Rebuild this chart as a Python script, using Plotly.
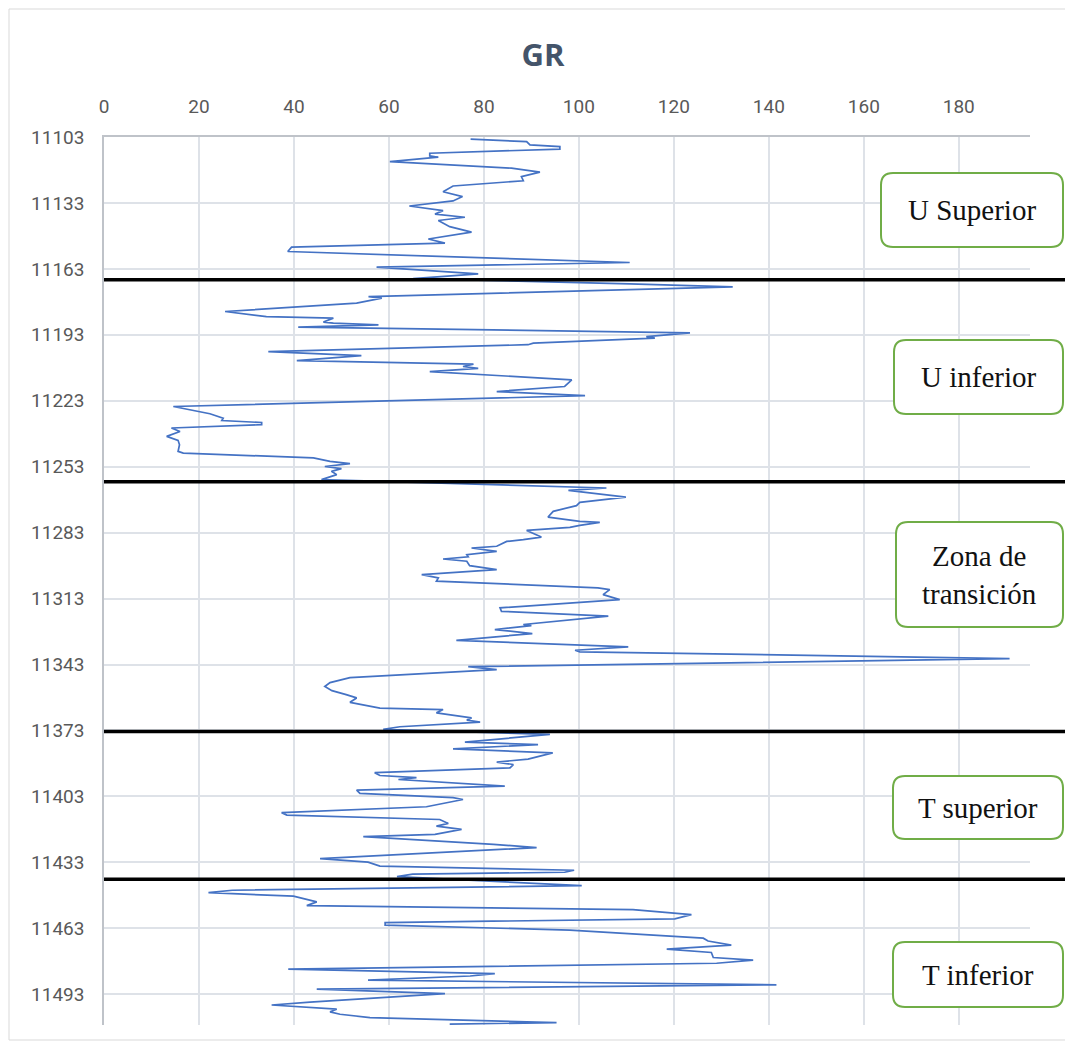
import plotly.graph_objects as go

# Gamma-ray log (API units) against measured depth (ft)
depth = [
    11104.0, 11105.1, 11106.6, 11107.4, 11108.5, 11110.4, 11111.6, 11112.2, 11114.2, 11117.2,
    11119.0, 11121.0, 11122.9, 11125.3, 11127.9, 11130.1, 11132.1, 11134.4, 11136.5, 11138.1,
    11139.5, 11141.0, 11143.8, 11146.3, 11149.4, 11151.3, 11153.1, 11155.1, 11160.1, 11162.2,
    11165.3, 11167.4, 11169.8, 11171.2, 11175.6, 11176.3, 11178.6, 11182.4, 11184.7, 11185.4,
    11187.2, 11187.7, 11188.5, 11189.5, 11192.1, 11193.8, 11194.5, 11196.8, 11197.5, 11200.6,
    11202.5, 11204.7, 11206.3, 11207.4, 11208.3, 11209.7, 11213.5, 11216.5, 11218.8, 11220.7,
    11225.6, 11228.9, 11230.9, 11232.0, 11232.9, 11233.9, 11235.4, 11237.0, 11239.2, 11241.0,
    11243.0, 11246.0, 11246.8, 11248.6, 11249.0, 11250.6, 11251.6, 11252.9, 11253.9, 11255.1,
    11256.6, 11258.9, 11262.7, 11263.8, 11266.8, 11269.2, 11270.7, 11273.3, 11275.9, 11277.9,
    11278.3, 11279.7, 11280.6, 11282.0, 11285.0, 11286.2, 11287.0, 11289.2, 11290.0, 11291.5,
    11293.0, 11294.0, 11295.0, 11296.0, 11298.0, 11299.8, 11302.1, 11303.6, 11305.1, 11308.1,
    11308.9, 11311.2, 11313.5, 11317.2, 11318.8, 11321.0, 11324.8, 11325.3, 11327.1, 11328.9,
    11332.0, 11335.0, 11336.5, 11337.2, 11340.3, 11344.0, 11345.3, 11349.0, 11351.2, 11353.0,
    11354.9, 11356.7, 11358.2, 11360.2, 11362.8, 11363.5, 11365.0, 11367.3, 11368.3, 11369.2,
    11371.3, 11372.5, 11374.8, 11378.3, 11379.4, 11381.4, 11383.2, 11386.0, 11387.4, 11388.5,
    11390.0, 11392.2, 11393.5, 11394.5, 11395.3, 11398.3, 11400.1, 11401.6, 11403.6, 11404.4,
    11407.7, 11410.4, 11411.5, 11413.5, 11415.3, 11416.5, 11418.0, 11420.3, 11421.3, 11424.8,
    11426.3, 11431.3, 11432.9, 11434.7, 11436.6, 11437.5, 11438.4, 11439.5, 11443.6, 11445.7,
    11446.8, 11448.4, 11449.7, 11451.0, 11452.7, 11454.5, 11456.8, 11458.7, 11460.4, 11461.6,
    11463.8, 11467.5, 11468.8, 11470.7, 11472.5, 11474.0, 11476.3, 11477.5, 11478.9, 11481.6,
    11483.6, 11484.7, 11486.6, 11488.7, 11490.7, 11492.7, 11496.6, 11497.9, 11499.8, 11501.0,
    11502.1, 11503.6, 11505.6, 11505.9, 11506.6,
]
gr = [
    77.2, 89.0, 89.7, 96.0, 96.0, 68.6, 68.6, 70.4, 60.2, 85.8,
    91.8, 87.9, 88.3, 73.5, 71.4, 75.5, 73.5, 64.3, 71.4, 69.7,
    76.0, 70.4, 72.8, 77.4, 68.3, 71.8, 39.5, 38.7, 110.7, 57.4,
    78.8, 65.1, 110.7, 132.4, 55.7, 58.5, 53.2, 25.5, 34.2, 48.3,
    46.2, 48.3, 57.8, 40.9, 123.4, 114.2, 116.0, 90.4, 89.3, 34.6,
    54.2, 40.6, 77.8, 75.6, 78.8, 68.6, 98.5, 97.0, 82.7, 101.3,
    14.6, 22.3, 25.1, 24.8, 33.2, 33.2, 14.2, 16.0, 13.2, 15.6,
    15.9, 15.6, 16.7, 39.9, 44.1, 47.6, 51.8, 46.5, 50.0, 47.9,
    49.0, 45.8, 105.8, 97.8, 109.9, 100.2, 99.5, 94.6, 93.5, 100.2,
    104.4, 100.2, 98.1, 89.0, 92.1, 88.3, 84.8, 82.7, 77.4, 82.7,
    76.4, 76.7, 71.4, 76.4, 77.0, 82.7, 66.9, 70.4, 70.0, 104.0,
    106.5, 105.1, 108.6, 83.4, 83.7, 106.2, 88.3, 90.0, 82.3, 90.2,
    74.2, 110.4, 99.2, 100.2, 190.7, 76.7, 82.7, 51.8, 47.6, 46.5,
    48.0, 51.0, 53.2, 51.8, 58.1, 71.4, 70.0, 77.4, 76.4, 79.2,
    62.3, 58.8, 93.9, 76.0, 91.4, 73.5, 94.5, 89.3, 82.7, 86.2,
    85.5, 57.0, 58.1, 65.8, 62.0, 84.4, 53.2, 53.9, 73.5, 75.6,
    67.9, 37.4, 38.5, 70.7, 72.5, 70.0, 75.3, 69.7, 54.6, 82.0,
    91.1, 45.5, 55.6, 58.1, 99.0, 97.0, 65.0, 61.7, 100.6, 27.0,
    22.0, 39.9, 42.7, 44.8, 42.7, 111.4, 123.7, 120.2, 59.2, 59.2,
    98.1, 126.2, 127.2, 132.1, 118.5, 127.9, 128.3, 136.7, 129.0, 38.8,
    82.3, 77.1, 55.6, 141.6, 44.8, 71.8, 43.4, 35.3, 49.0, 47.6,
    49.7, 56.0, 89.0, 95.3, 72.8,
]

# Zone boundaries (depth, ft) and zone names
zone_tops = [11168.0, 11259.8, 11373.5, 11440.7]
zone_names = ["U Superior", "U inferior", "Zona de<br>transición", "T superior", "T inferior"]

gr_range = [0, 195]
depth_range = [11507, 11103]
gr_ticks = list(range(0, 181, 20))
depth_ticks = list(range(11103, 11494, 30))

W, H = 1065, 1048
ML, MR, MT, MB = 104, 35, 137, 23
PW, PH = W - ML - MR, H - MT - MB


def px_x(px):
    return (px - ML) / PW


def px_y(py):
    return (H - MB - py) / PH


def depth_to_paper(d):
    return (depth_range[0] - d) / (depth_range[0] - depth_range[1])


def rounded_box(x0, y0, x1, y1, r=12):
    rx, ry = r / PW, r / PH
    a, b = px_x(x0), px_x(x1)
    top, bot = px_y(y0), px_y(y1)
    return (
        f"M {a + rx} {top} L {b - rx} {top} Q {b} {top} {b} {top - ry} "
        f"L {b} {bot + ry} Q {b} {bot} {b - rx} {bot} "
        f"L {a + rx} {bot} Q {a} {bot} {a} {bot + ry} "
        f"L {a} {top - ry} Q {a} {top} {a + rx} {top} Z"
    )


fig = go.Figure()
fig.add_trace(go.Scatter(
    x=gr, y=depth, mode="lines",
    line=dict(color="#4472C4", width=1.7),
    showlegend=False, hoverinfo="x+y",
))

shapes = []
# outer chart border
shapes.append(dict(type="rect", xref="paper", yref="paper",
                   x0=px_x(9), x1=px_x(1080), y0=px_y(9), y1=px_y(1040),
                   line=dict(color="#D9D9D9", width=1), layer="below"))
# zone boundary lines
for d in zone_tops:
    yp = depth_to_paper(d)
    shapes.append(dict(type="line", xref="paper", yref="paper",
                       x0=0, x1=px_x(1070), y0=yp, y1=yp,
                       line=dict(color="black", width=3.5)))

# zone label boxes (left, top, right, bottom in px)
boxes = [
    (881, 173, 1063, 247),
    (894, 340, 1063, 414),
    (896, 522, 1063, 627),
    (893, 776, 1063, 839),
    (893, 942, 1063, 1007),
]
annotations = []
for (x0, y0, x1, y1), name in zip(boxes, zone_names):
    shapes.append(dict(type="path", xref="paper", yref="paper",
                       path=rounded_box(x0, y0, x1, y1),
                       fillcolor="white", line=dict(color="#70AD47", width=2)))
    annotations.append(dict(
        xref="paper", yref="paper",
        x=px_x((x0 + x1) / 2), y=px_y((y0 + y1) / 2),
        text=name, showarrow=False, xanchor="center", yanchor="middle",
        font=dict(family="Liberation Serif, Times New Roman, serif", size=29, color="#111111"),
    ))

fig.update_layout(
    width=W, height=H,
    margin=dict(l=ML, r=MR, t=MT, b=MB),
    paper_bgcolor="white", plot_bgcolor="white",
    title=dict(text="<b>GR</b>", x=px_x(543), xref="paper", xanchor="center",
               y=1 - 55 / H, yref="container", yanchor="middle",
               font=dict(family="Open Sans, Roboto, sans-serif", size=31, color="#44546A")),
    shapes=shapes,
    annotations=annotations,
    xaxis=dict(
        side="top", range=gr_range, tickvals=gr_ticks,
        showgrid=True, gridcolor="#DEE2E8", gridwidth=1.5,
        showline=True, linecolor="#BFC3C9", linewidth=2,
        ticks="outside", ticklen=14, tickcolor="rgba(0,0,0,0)",
        tickfont=dict(family="Roboto, sans-serif", size=19, color="#595959"),
        zeroline=False, fixedrange=True,
    ),
    yaxis=dict(
        range=depth_range, tickvals=depth_ticks, tickformat="d",
        showgrid=True, gridcolor="#DEE2E8", gridwidth=1.5,
        showline=True, linecolor="#BFC3C9", linewidth=1.5,
        ticks="outside", ticklen=14, tickcolor="rgba(0,0,0,0)",
        tickfont=dict(family="Roboto, sans-serif", size=19, color="#595959"),
        zeroline=False, fixedrange=True,
    ),
)

fig.write_html("out.html")
